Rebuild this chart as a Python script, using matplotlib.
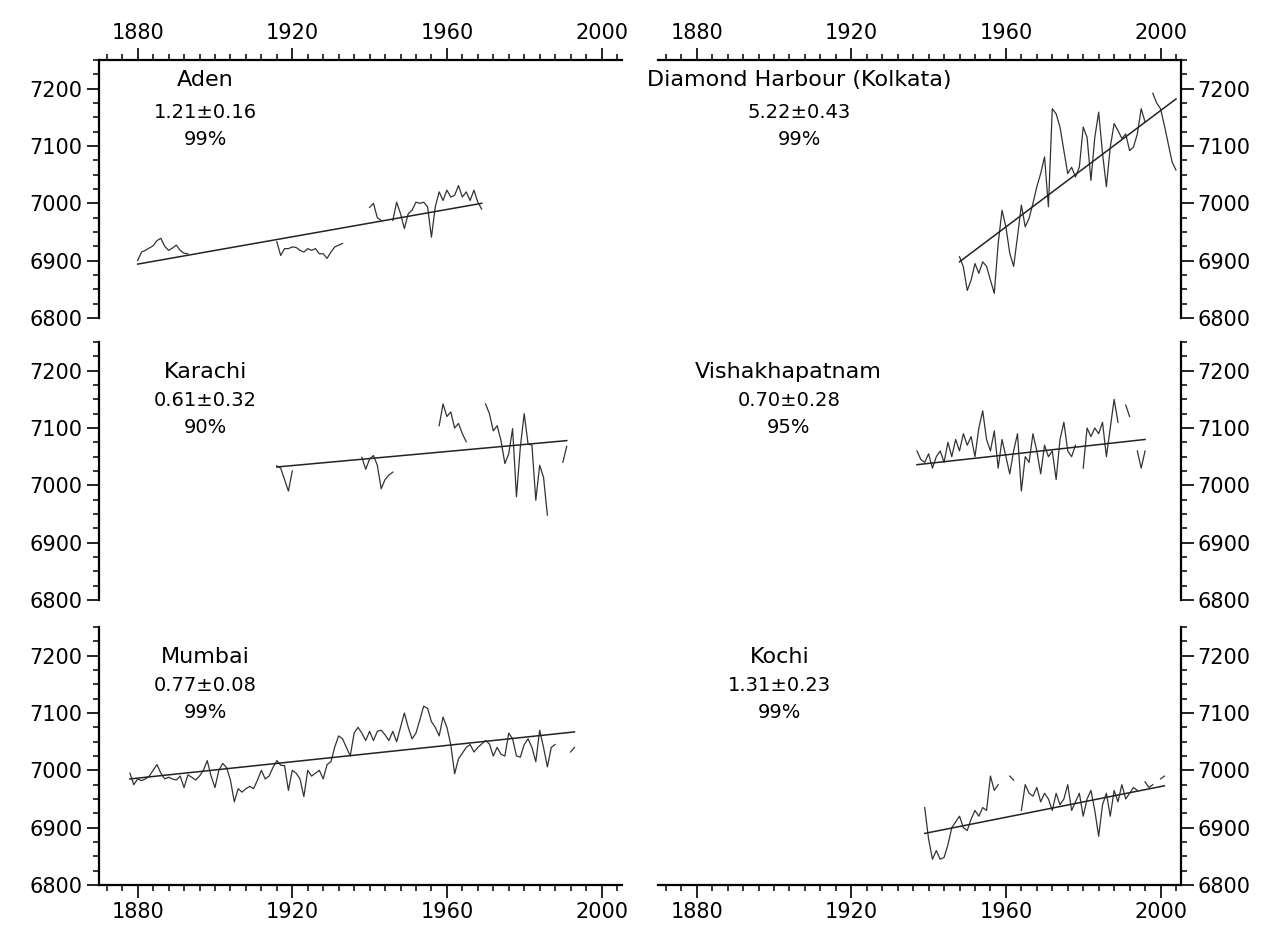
import numpy as np
import matplotlib.pyplot as plt
from matplotlib.ticker import MultipleLocator

plt.rcParams['font.family'] = ['DejaVu Sans']

N = None  # missing year

# Data (annual mean sea level, mm) ############################################

aden_start = 1880
aden_vals = ([6900, 6915, 6918, 6922, 6926, 6935, 6939, 6925, 6918, 6922, 6927, 6918, 6913, 6912]
             + [N] * 22
             + [6933, 6909, 6921, 6921, 6924, 6923, 6918, 6915, 6921, 6918, 6921, 6912, 6912, 6904,
                6915, 6924, 6927, 6930]
             + [N] * 6
             + [6993, 7000, 6975, 6970, N, N]
             + [6970, 7002, 6982, 6956, 6982, 6988, 7002, 7000, 7002, 6994, 6941, 6994, 7020, 7005,
                7023, 7011, 7014, 7031, 7011, 7020, 7005, 7023, 7002, 6990])

karachi_start = 1916
karachi_vals = ([7034, 7030, 7010, 6990, 7025]
                + [N] * 17
                + [7049, 7028, 7046, 7052, 7035, 6994, 7010, 7018, 7023]
                + [N] * 11
                + [7104, 7142, 7120, 7128, 7100, 7108, 7090, 7076]
                + [N] * 4
                + [7142, 7125, 7095, 7104, 7078, 7038, 7055, 7099, 6980, 7067, 7125, 7072, 7070,
                   6974, 7035, 7014, 6948]
                + [N] * 3
                + [7040, 7068])

mumbai_start = 1878
mumbai_vals = ([6995, 6975, 6985, 6982, 6985, 6990, 7000, 7010, 6995, 6985, 6988, 6985, 6983, 6990,
                6970, 6992, 6988, 6983, 6990, 7000, 7017, 6990, 6970, 7000, 7012, 7005, 6983, 6945,
                6968, 6962, 6968, 6972, 6968, 6983, 7000, 6985, 6990, 7005, 7017, 7009, 7008, 6965,
                7000, 6995, 6985, 6954, 7000, 6990, 6995, 7000, 6985, 7010, 7015, 7041, 7060, 7055,
                7040, 7025, 7065, 7075]
               + [7065, 7052, 7068, 7052, 7068, 7070, 7062, 7052, 7068, 7050, 7075, 7100, 7075, 7055,
                  7065, 7088, 7112, 7108, 7085, 7075, 7060, 7093, 7075, 7045, 6994, 7020, 7030, 7040,
                  7045, 7032, 7040, 7046, 7052, 7046, 7025, 7040, 7028, 7025, 7065, 7055, 7025, 7023,
                  7045, 7055, 7040, 7015, 7070, 7040, 7006, 7040, 7045]
               + [N] * 3
               + [7032, 7040])

diamond_start = 1948
diamond_vals = [6907, 6889, 6848, 6866, 6895, 6878, 6898, 6890, 6866, 6843, 6930, 6988, 6959, 6913,
                6890, 6942, 6997, 6959, 6974, 7000, 7029, 7052, 7081, 6994, 7165, 7156, 7133, 7092,
                7052, 7063, 7046, 7063, 7133, 7115, 7040, 7115, 7159, 7087, 7029, 7098, 7139, 7127,
                7113, 7121, 7092, 7098, 7121, 7165, 7142, N, 7192, 7175, 7165, 7136, 7104, 7072,
                7058]

vishak_start = 1937
vishak_vals = [7060, 7045, 7040, 7055, 7030, 7050, 7060, 7040, 7075, 7050, 7080, 7060, 7090, 7070,
               7085, 7050, 7100, 7130, 7080, 7060, 7095, 7030, 7080, 7050, 7020, 7060, 7090, 6990,
               7050, 7040, 7090, 7060, 7020, 7070, 7050, 7060, 7010, 7080, 7110, 7060, 7050, 7070,
               N, 7030, 7100, 7085, 7100, 7090, 7110, 7050, 7100, 7150, 7110, N, 7140, 7120, N,
               7060, 7030, 7060]

kochi_start = 1939
kochi_vals = [6935, 6880, 6845, 6860, 6845, 6848, 6870, 6900, 6910, 6920, 6900, 6895, 6915, 6930,
              6920, 6935, 6930, 6990, 6965, 6975, N, N, 6990, 6983, N, 6930, 6975, 6960, 6955,
              6970, 6945, 6960, 6950, 6930, 6960, 6940, 6950, 6975, 6930, 6945, 6960, 6920, 6950,
              6965, 6930, 6885, 6940, 6960, 6920, 6965, 6945, 6975, 6950, 6960, 6970, 6965, N,
              6980, 6970, 6975, N, 6985, 6990]

names = ["Aden", "Diamond Harbour (Kolkata)", "Karachi", "Vishakhapatnam", "Mumbai", "Kochi"]
rates = ["1.21\u00b10.16", "5.22\u00b10.43", "0.61\u00b10.32", "0.70\u00b10.28", "0.77\u00b10.08",
         "1.31\u00b10.23"]
signif = ["99%", "99%", "90%", "95%", "99%", "99%"]
starts = [aden_start, diamond_start, karachi_start, vishak_start, mumbai_start, kochi_start]
values = [aden_vals, diamond_vals, karachi_vals, vishak_vals, mumbai_vals, kochi_vals]
# linear trend: value at first and last data year
trend_ends = [(6894, 7000), (6898, 7182), (7032, 7078), (7036, 7080), (6985, 7067), (6890, 6973)]

# Layout ######################################################################

W, H = 1273, 940
col_x = [99, 658]
col_w = 523
row_top = [60, 342, 627]
row_h = 258
text_y = [(0.922, 0.795, 0.690), (0.884, 0.772, 0.668), (0.884, 0.772, 0.668)]
text_x = [0.203, 0.27, 0.203, 0.25, 0.203, 0.233]

fig = plt.figure(figsize=(W / 100, H / 100), dpi=100)

for k in range(6):
    r, c = k // 2, k % 2
    ax = fig.add_axes([col_x[c] / W, 1 - (row_top[r] + row_h) / H, col_w / W, row_h / H])

    yrs = np.arange(starts[k], starts[k] + len(values[k]))
    vals = np.array([np.nan if v is None else v for v in values[k]], float)
    ax.plot(yrs, vals, color='#333333', lw=0.9)

    ok = ~np.isnan(vals)
    ty = [yrs[ok][0], yrs[ok][-1]]
    ax.plot(ty, trend_ends[k], color='#222222', lw=1.1)

    ax.set_xlim(1870, 2005.3)
    ax.set_ylim(6800, 7250)
    ax.xaxis.set_major_locator(MultipleLocator(40))
    ax.xaxis.set_minor_locator(MultipleLocator(4))
    ax.yaxis.set_minor_locator(MultipleLocator(25))
    ax.set_yticks([6800, 6900, 7000, 7100, 7200])

    for s in ax.spines.values():
        s.set_visible(False)
        s.set_linewidth(1.6)

    yside = 'left' if c == 0 else 'right'
    ax.spines[yside].set_visible(True)
    ax.yaxis.set_ticks_position(yside)

    if r == 0:
        ax.spines['top'].set_visible(True)
        ax.xaxis.set_ticks_position('top')
    elif r == 2:
        ax.spines['bottom'].set_visible(True)
        ax.xaxis.set_ticks_position('bottom')
    else:
        ax.xaxis.set_ticks_position('none')
        ax.set_xticklabels([])

    ax.tick_params(which='major', direction='out', length=9, width=1.2, labelsize=15, pad=3)
    ax.tick_params(which='minor', direction='out', length=4.5, width=1.1)
    ax.set_facecolor('none')

    tx = text_x[k]
    t1, t2, t3 = text_y[r]
    ax.text(tx, t1, names[k], transform=ax.transAxes, ha='center', va='center', fontsize=16)
    ax.text(tx, t2, rates[k], transform=ax.transAxes, ha='center', va='center', fontsize=14)
    ax.text(tx, t3, signif[k], transform=ax.transAxes, ha='center', va='center', fontsize=14)

plt.savefig('out.png', dpi=100, facecolor='white')
